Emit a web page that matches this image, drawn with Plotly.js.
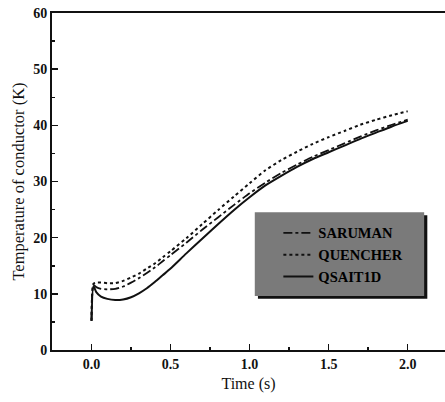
<!DOCTYPE html>
<html>
<head>
<meta charset="utf-8">
<script src="https://cdn.plot.ly/plotly-3.0.1.min.js"></script>
<style>html,body{margin:0;padding:0;background:#fff;overflow:hidden}</style>
</head>
<body>
<div id="chart" style="width:445px;height:402px"></div>
<script>
// Time (s)
const time = [0, 0.012, 0.03, 0.06, 0.1, 0.15, 0.2, 0.25, 0.3, 0.35, 0.4, 0.45, 0.5, 0.6, 0.7, 0.8, 0.9, 1.0, 1.1, 1.2, 1.3, 1.4, 1.5, 1.6, 1.7, 1.8, 1.9, 2.0];
// Temperature of conductor (K)
const saruman  = [5.2, 11.6, 11.2, 10.9, 10.8, 10.9, 11.3, 12.0, 12.8, 13.7, 14.7, 15.8, 16.9, 19.1, 21.4, 23.6, 25.8, 27.9, 29.8, 31.5, 33.0, 34.4, 35.6, 36.8, 38.0, 39.1, 40.1, 41.0];
const quencher = [5.2, 11.8, 12.0, 12.0, 11.9, 11.9, 12.3, 12.9, 13.6, 14.5, 15.4, 16.5, 17.6, 19.9, 22.4, 24.9, 27.3, 29.7, 32.0, 33.8, 35.3, 36.7, 37.9, 39.0, 40.1, 41.0, 41.8, 42.5];
const qsait1d  = [5.2, 11.4, 10.3, 9.5, 9.1, 8.9, 9.0, 9.4, 10.1, 11.0, 12.1, 13.3, 14.5, 17.2, 19.8, 22.4, 24.9, 27.2, 29.3, 31.0, 32.6, 34.0, 35.2, 36.4, 37.6, 38.7, 39.8, 40.8];
const seriesNames = ['SARUMAN', 'QUENCHER', 'QSAIT1D'];
const xTicks = [0, 0.5, 1.0, 1.5, 2.0];
const xTickText = ['0.0', '0.5', '1.0', '1.5', '2.0'];
const yTicks = [0, 10, 20, 30, 40, 50, 60];

const font = 'Liberation Serif, Times New Roman, serif';
const traces = [
  {x: time, y: saruman, name: seriesNames[0], mode: 'lines', line: {color: '#111', width: 1.8, dash: 'dashdot', shape: 'spline', smoothing: 0.6}},
  {x: time, y: quencher, name: seriesNames[1], mode: 'lines', line: {color: '#111', width: 2, dash: 'dot', shape: 'spline', smoothing: 0.6}},
  {x: time, y: qsait1d, name: seriesNames[2], mode: 'lines', line: {color: '#111', width: 2, dash: 'solid', shape: 'spline', smoothing: 0.6}}
];

const layout = {
  width: 445, height: 402,
  margin: {l: 52, r: 0, t: 13, b: 52},
  paper_bgcolor: '#fff', plot_bgcolor: '#fff',
  font: {family: font, color: '#111', size: 14},
  showlegend: true,
  legend: {x: 0.576, y: 0.395, xanchor: 'left', yanchor: 'top', bgcolor: 'rgba(0,0,0,0)', borderwidth: 0,
           font: {family: font, size: 14.5, color: '#000', weight: 'bold'}, tracegroupgap: 0},
  xaxis: {
    range: [-0.25, 2.236], showgrid: false, zeroline: false,
    showline: true, linecolor: '#111', linewidth: 2, mirror: true,
    ticks: 'inside', ticklen: 6, tickwidth: 1.5, tickcolor: '#111',
    tickvals: xTicks, ticktext: xTickText,
    tickfont: {family: font, size: 14, color: '#111', weight: 'bold'},
    minor: {tickvals: [0.25, 0.75, 1.25, 1.75], ticks: 'inside', ticklen: 3, tickwidth: 1.5, tickcolor: '#111'},
    title: {text: 'Time (s)', font: {family: font, size: 16, color: '#111'}, standoff: 7}
  },
  yaxis: {
    range: [0, 60], showgrid: false, zeroline: false,
    showline: true, linecolor: '#111', linewidth: 2,
    ticks: 'inside', ticklen: 6, tickwidth: 1.5, tickcolor: '#111',
    tickvals: yTicks,
    tickfont: {family: font, size: 14, color: '#111', weight: 'bold'},
    minor: {dtick: 5, ticks: 'inside', ticklen: 3, tickwidth: 1.5, tickcolor: '#111'},
    title: {text: 'Temperature of conductor (K)', font: {family: font, size: 16.5, color: '#111'}, standoff: 4}
  },
  shapes: [
    {type: 'rect', xref: 'paper', yref: 'paper', layer: 'above', x0: 0.524, x1: 0.955, y0: 0.152, y1: 0.400, fillcolor: '#111', line: {width: 0}},
    {type: 'rect', xref: 'paper', yref: 'paper', layer: 'above', x0: 0.516, x1: 0.947, y0: 0.160, y1: 0.409, fillcolor: '#7a7a7a', line: {width: 0}}
  ]
};

Plotly.newPlot('chart', traces, layout, {displayModeBar: false, staticPlot: true});
</script>
</body>
</html>
